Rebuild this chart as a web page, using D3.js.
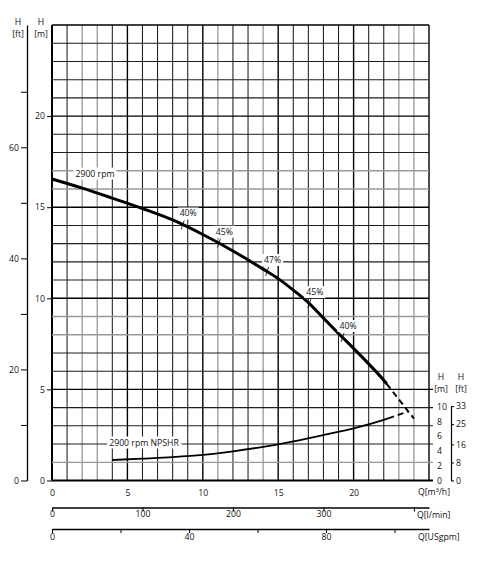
<!DOCTYPE html>
<html>
<head>
<meta charset="utf-8">
<script src="https://cdn.jsdelivr.net/npm/d3@7"></script>
<style>
  body { margin: 0; background: #fff; }
  text { font-family: "Open Sans", sans-serif; font-size: 8.7px; fill: #111; }
</style>
</head>
<body>
<svg id="chart" width="488" height="567"></svg>
<script>
// Q-H curve at 2900 rpm (Q in m3/h, H in m)
const qHead = [0, 2, 4, 6, 8, 10, 12, 14, 15, 16, 17, 18, 19, 20, 21, 22, 22.2, 23, 24];
const head = [16.55, 16.05, 15.5, 14.93, 14.3, 13.5, 12.6, 11.6, 11.08, 10.45, 9.76, 8.91, 8.07, 7.25, 6.4, 5.5, 5.3, 4.45, 3.4];
const headDashFrom = 16; // from this point on the curve is dashed

// NPSHR curve (H in m on the small right scale)
const qNpsh = [4, 6, 8, 10, 12, 14, 16, 18, 20, 22, 22.3, 23.6];
const npsh = [2.77, 2.95, 3.15, 3.45, 3.95, 4.55, 5.3, 6.15, 7.05, 8.2, 8.4, 9.3];
const npshDashFrom = 10;

// efficiency marks on the Q-H curve
const effQ = [8.7, 11.1, 14.3, 17.1, 19.3];
const effH = [14.0, 13.0, 11.45, 9.68, 7.82];
const effLabels = ['40%', '45%', '47%', '45%', '40%'];

// tick values
const qLabels = [0, 5, 10, 15, 20];
const hLabels = [0, 5, 10, 15, 20];
const ftTicks = [0, 10, 20, 30, 40, 50, 60, 70];
const ftLabels = [0, 20, 40, 60];
const lminTicks = [0, 100, 200, 300, 400];
const lminLabels = [0, 100, 200, 300];
const gpmTicks = [0, 20, 40, 60, 80, 100];
const gpmLabels = [0, 40, 80];
const npshLabels = [0, 2, 4, 6, 8, 10];
const npshFtLabels = [0, 8, 16, 25, 33];

// grid lines that come out lighter on the sheet
const lightQ = [2, 3, 11, 14, 23, 24];
const lightH = [1, 8, 9, 16, 17];

const svg = d3.select('#chart');

const x = d3.scaleLinear().domain([0, 25]).range([52, 429]);
const y = d3.scaleLinear().domain([0, 25]).range([480.5, 25]);
const yFt = d3.scaleLinear().domain([0, 25 / 0.3048]).range([480.5, 25]);
const yN = d3.scaleLinear().domain([0, 10]).range([480.5, 406.5]);
const yNft = d3.scaleLinear().domain([0, 10 / 0.3048]).range([480.5, 406.5]);
const xL = d3.scaleLinear().domain([0, 25 * 1000 / 60]).range([52, 429]);
const xG = d3.scaleLinear().domain([0, 25 * 4.40287]).range([52, 429]);

// grid
const grid = svg.append('g');
const steps = d3.range(0, 26);

function gridStyle(v, light) {
  if (v % 5 === 0) return { c: '#000', w: v === 0 ? 2 : 1.4 };
  if (light.includes(v)) return { c: '#999', w: 1.3 };
  return { c: '#1e1e1e', w: 1.05 };
}

steps.forEach(v => {
  const s = gridStyle(v, lightQ);
  grid.append('line')
    .attr('x1', x(v)).attr('x2', x(v))
    .attr('y1', y(25)).attr('y2', y(0))
    .attr('stroke', s.c).attr('stroke-width', v === 25 ? 1.4 : s.w);
});
steps.forEach(v => {
  const s = gridStyle(v, lightH);
  grid.append('line')
    .attr('x1', x(0)).attr('x2', v <= 5 ? x(25) + 4 : x(25))
    .attr('y1', y(v)).attr('y2', y(v))
    .attr('stroke', s.c).attr('stroke-width', v === 25 ? 1.4 : s.w);
});

// labels with a white box behind them
function boxedText(px, py, str) {
  const g = svg.append('g');
  const t = g.append('text').attr('x', px).attr('y', py)
    .attr('text-anchor', 'middle').attr('dy', '0.35em').text(str);
  const b = t.node().getBBox();
  g.insert('rect', 'text')
    .attr('x', b.x - 2).attr('y', b.y)
    .attr('width', b.width + 4).attr('height', b.height)
    .attr('fill', '#fff');
}

// curves
const line = d3.line().x(d => x(d[0])).y(d => y(d[1])).curve(d3.curveMonotoneX);
const lineN = d3.line().x(d => x(d[0])).y(d => yN(d[1])).curve(d3.curveMonotoneX);

const headPts = qHead.map((q, i) => [q, head[i]]);
const npshPts = qNpsh.map((q, i) => [q, npsh[i]]);

svg.append('path').attr('d', line(headPts.slice(0, headDashFrom + 1)))
  .attr('fill', 'none').attr('stroke', '#000').attr('stroke-width', 3);
svg.append('path').attr('d', line(headPts.slice(headDashFrom)))
  .attr('fill', 'none').attr('stroke', '#000').attr('stroke-width', 2)
  .attr('stroke-dasharray', '6,4');

svg.append('path').attr('d', lineN(npshPts.slice(0, npshDashFrom + 1)))
  .attr('fill', 'none').attr('stroke', '#000').attr('stroke-width', 1.8);
svg.append('path').attr('d', lineN(npshPts.slice(npshDashFrom)))
  .attr('fill', 'none').attr('stroke', '#000').attr('stroke-width', 1.8)
  .attr('stroke-dasharray', '6,4');

// efficiency marks
effQ.forEach((q, i) => {
  const cx = x(q), cy = y(effH[i]);
  svg.append('line')
    .attr('x1', cx - 2).attr('y1', cy + 4)
    .attr('x2', cx + 1).attr('y2', cy - 5)
    .attr('stroke', '#000').attr('stroke-width', 0.8);
  boxedText(cx + 5, cy - 12, effLabels[i]);
});

boxedText(95, 173.5, '2900 rpm');
boxedText(144, 442.5, '2900 rpm NPSHR');

// left axes
const axM = svg.append('g').attr('transform', 'translate(52,0)')
  .call(d3.axisLeft(y).tickValues(hLabels).tickSize(5).tickSizeOuter(0).tickPadding(2));
axM.select('.domain').remove();

const axFt = svg.append('g').attr('transform', 'translate(27,0)')
  .call(d3.axisLeft(yFt).tickValues(ftTicks).tickSize(6).tickSizeOuter(0).tickPadding(2)
    .tickFormat(d => ftLabels.includes(d) ? d : ''));
axFt.select('.domain').attr('stroke-width', 1.3);

// bottom axes
const axQ = svg.append('g').attr('transform', 'translate(0,480.5)')
  .call(d3.axisBottom(x).tickValues(qLabels).tickSize(0).tickPadding(9));
axQ.select('.domain').remove();

const axL = svg.append('g').attr('transform', 'translate(0,507.5)')
  .call(d3.axisBottom(xL).tickValues(lminTicks).tickSize(4).tickSizeOuter(0).tickPadding(-1)
    .tickFormat(d => lminLabels.includes(d) ? d : ''));
axL.select('.domain').attr('stroke-width', 1.3);

const axG = svg.append('g').attr('transform', 'translate(0,529)')
  .call(d3.axisBottom(xG).tickValues(gpmTicks).tickSize(4).tickSizeOuter(0).tickPadding(1)
    .tickFormat(d => gpmLabels.includes(d) ? d : ''));
axG.select('.domain').attr('stroke-width', 1.3);

// right NPSH axes
const axN = svg.append('g').attr('transform', 'translate(429,0)')
  .call(d3.axisRight(yN).tickValues(npshLabels).tickSize(0).tickPadding(8));
axN.select('.domain').remove();

const axNft = svg.append('g').attr('transform', 'translate(451,0)')
  .call(d3.axisRight(yNft).tickValues(npshFtLabels).tickSize(3).tickSizeOuter(0).tickPadding(2));
axNft.select('.domain').attr('stroke-width', 1.2);

svg.selectAll('.tick text').style('font-family', '"Open Sans", sans-serif').style('font-size', '8.7px').attr('fill', '#111');

// axis titles
const titles = [
  [18, 25, 'H', 'middle'], [18, 37, '[ft]', 'middle'],
  [41, 25, 'H', 'middle'], [41, 37, '[m]', 'middle'],
  [441, 380, 'H', 'middle'], [441, 392, '[m]', 'middle'],
  [461, 380, 'H', 'middle'], [461, 392, '[ft]', 'middle'],
  [418, 495, 'Q[m\u00B3/h]', 'start'],
  [417, 518, 'Q[l/min]', 'start'],
  [418, 540, 'Q[USgpm]', 'start']
];
titles.forEach(t => {
  svg.append('text').attr('x', t[0]).attr('y', t[1])
    .attr('text-anchor', t[3]).text(t[2]);
});
</script>
</body>
</html>
